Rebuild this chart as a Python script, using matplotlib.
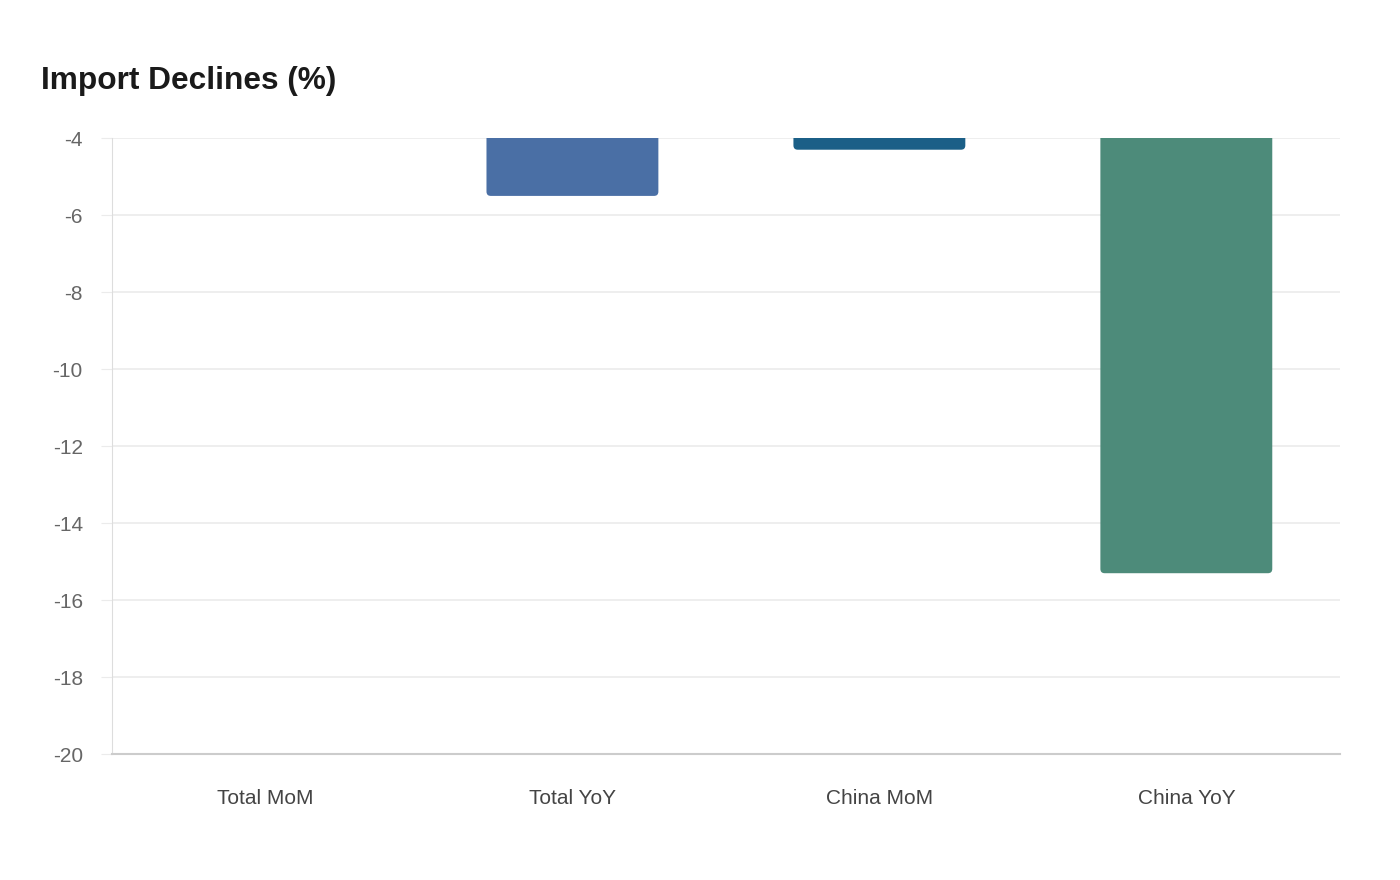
import matplotlib.pyplot as plt
from matplotlib.patches import FancyBboxPatch

plt.rcParams['font.family'] = ['Liberation Sans', 'DejaVu Sans']
plt.rcParams['axes.unicode_minus'] = False

# data
categories = ['Total MoM', 'Total YoY', 'China MoM', 'China YoY']
values = [-2.0, -5.5, -4.3, -15.3]   # Total MoM sits above the axis range, so it is clipped away
colors = ['#3b6ea5', '#4a6fa5', '#1b5f87', '#4d8b7a']
yticks = [-4, -6, -8, -10, -12, -14, -16, -18, -20]

fig = plt.figure(figsize=(14, 8.8), dpi=100)
ax = fig.add_axes([0.08, 0.143, 0.877, 0.7])  # left, bottom, width, height

bars = ax.bar(range(len(categories)), values, width=0.56, color=colors)

# swap plain bars for ones with rounded corners
for b, c in zip(bars, colors):
    x, y = b.get_xy()
    w, h = b.get_width(), b.get_height()
    p = FancyBboxPatch((x, y + h), w, -h, boxstyle='round,pad=0,rounding_size=0.014',
                       mutation_aspect=8, facecolor=c, edgecolor='none', zorder=3)
    ax.add_patch(p)
    b.remove()

ax.set_ylim(-20, -4)
ax.set_xlim(-0.5, 3.5)
ax.set_yticks(yticks)
ax.set_xticks(range(len(categories)))
ax.set_xticklabels(categories)

ax.grid(axis='y', color='#ebebeb', linewidth=1.2, zorder=0)
ax.set_axisbelow(True)
for s in ['top', 'right']:
    ax.spines[s].set_visible(False)
ax.spines['left'].set_color('#dddddd')
ax.spines['bottom'].set_color('#cccccc')
ax.spines['bottom'].set_linewidth(1.5)

ax.tick_params(axis='y', length=8, color='#ebebeb', labelsize=15, labelcolor='#666666', pad=13)
ax.tick_params(axis='x', length=0, labelsize=15, labelcolor='#444444', pad=25)

fig.text(0.029, 0.908, 'Import Declines (%)', fontsize=22.8, fontweight='bold', color='#1a1a1a',
         ha='left', va='center')

fig.savefig('out.png', dpi=100)
